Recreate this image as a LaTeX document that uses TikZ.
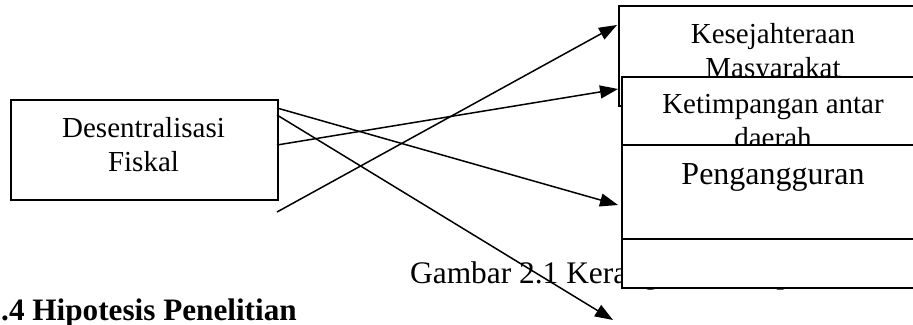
\documentclass[tikz,border=0pt]{standalone}
\usepackage{fontspec}
\setmainfont{Liberation Serif}
\usetikzlibrary{arrows.meta}
\begin{document}
\begin{tikzpicture}[x=1pt,y=-1pt,
  box/.style={draw,line width=1.7pt,fill=white,inner sep=0pt,anchor=north west},
  txt/.style={anchor=base,inner sep=0pt,font=\fontsize{29}{33}\selectfont},
  arr/.style={line width=1.5pt,-{Triangle[length=18pt,width=13pt]}}]
\useasboundingbox (0,0) rectangle (913,324);
% caption and heading (partly hidden)
\node[anchor=base west,inner sep=0pt,font=\fontsize{31.4}{36}\selectfont] (cap) at (410,283) {Gambar 2.1 Kerangka Konseptual};
\node[anchor=base west,inner sep=0pt,font=\bfseries\fontsize{31.2}{36}\selectfont] (hd) at (-14.6,320) {2.4 Hipotesis Penelitian};
% source box
\node[box,minimum width=267pt,minimum height=100pt] (src) at (10,99) {};
\node[txt] (srcA) at (143.5,137) {Desentralisasi};
\node[txt] (srcB) at (143.5,171) {Fiskal};
% target boxes
\node[box,minimum width=310pt,minimum height=100pt] (k1) at (618,5) {};
\node[txt] (k1a) at (773,43) {Kesejahteraan};
\node[txt] (k1b) at (773,77) {Masyarakat};
\node[box,minimum width=310pt,minimum height=110pt] (k2) at (621,76) {};
\node[txt] (k2a) at (773,113) {Ketimpangan antar};
\node[txt] (k2b) at (773,147) {daerah};
\node[box,minimum width=310pt,minimum height=94pt] (k3) at (621,144) {};
\node[txt,font=\fontsize{32}{36}\selectfont] (k3a) at (773,184) {Pengangguran};
\node[box,minimum width=310pt,minimum height=49pt] (k4) at (621,238) {};
% connector ends
\coordinate (a0) at (277,212);
\coordinate (b0) at (277,145);
\coordinate (c0) at (277,108);
\coordinate (d0) at (277,115);
\coordinate (a1) at (617,25);
\coordinate (b1) at (618,89);
\coordinate (c1) at (618,205);
\coordinate (d1) at (613,320);
\draw[arr] (a0) -- (a1);
\draw[arr] (b0) -- (b1);
\draw[arr] (c0) -- (c1);
\draw[arr] (d0) -- (d1);
\end{tikzpicture}
\end{document}
